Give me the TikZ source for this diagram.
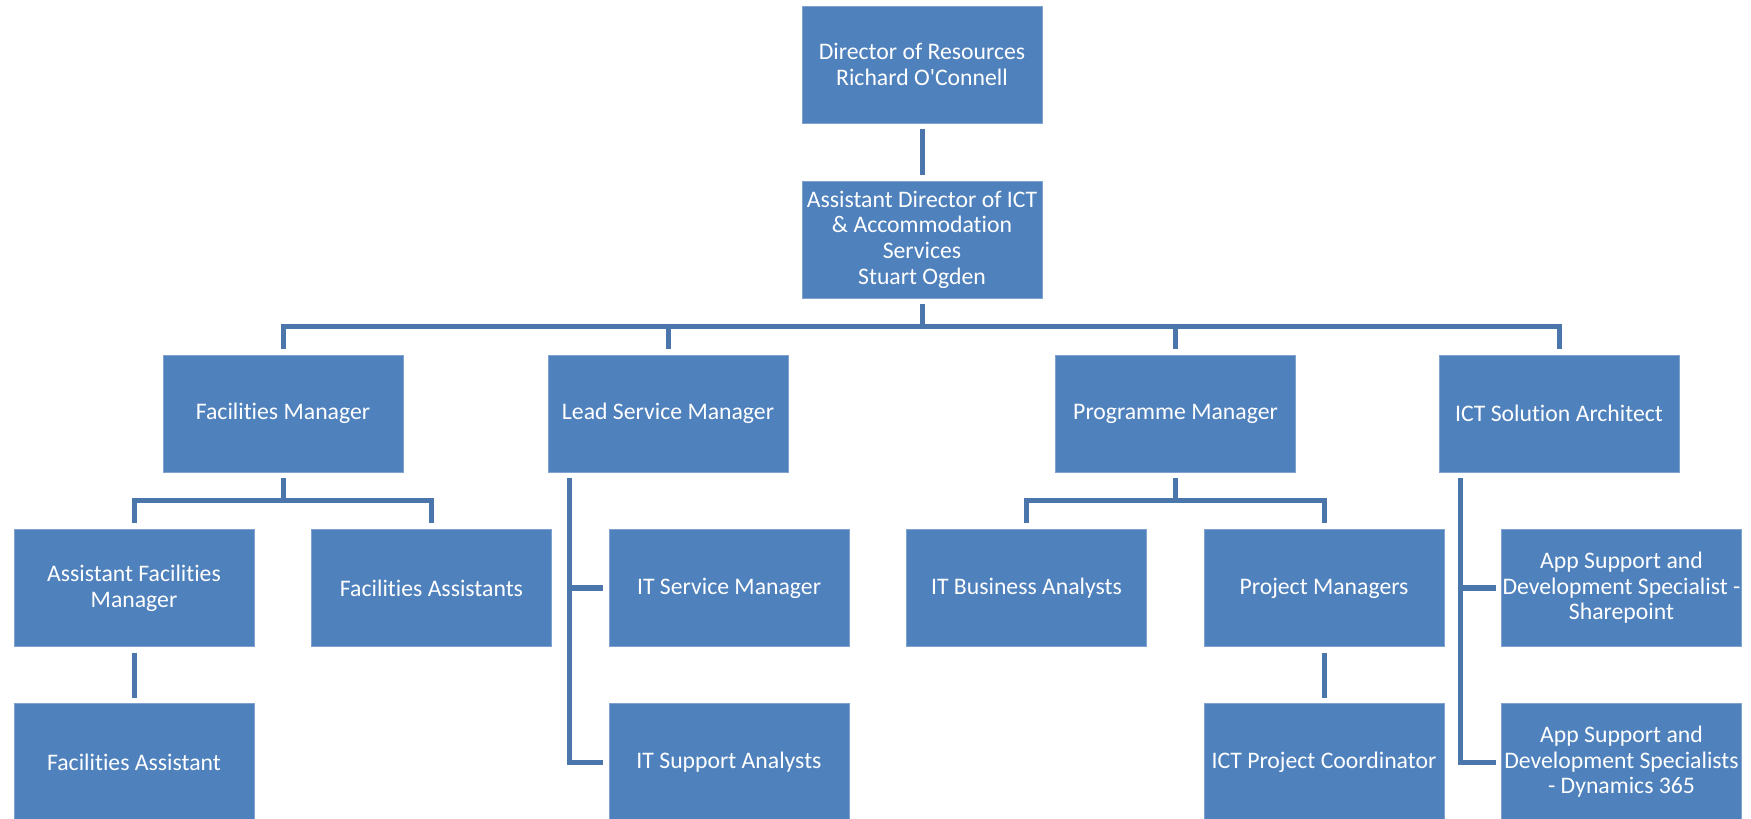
\documentclass[tikz,border=0pt]{standalone}
\usepackage{fontspec}
\setmainfont{Carlito}[Ligatures={NoCommon,NoRare,NoContextual}]
\definecolor{boxblue}{HTML}{4F81BD}
\definecolor{boxedge}{HTML}{7FA2CE}
\definecolor{lineblue}{HTML}{4A76AC}
\begin{document}
\begin{tikzpicture}[
	post/.style={rectangle, fill=boxblue, draw=boxedge, line width=.4pt,
		minimum width=4.8cm, minimum height=2.34cm, inner sep=0pt, outer sep=.12cm,
		align=center, text=white, font=\fontsize{13.5}{14.6}\selectfont},
	link/.style={draw=lineblue, line width=.1cm}
]
	\useasboundingbox (0,0) rectangle (35.02,-16.38);

	\node[post] (dir) at (18.44,-1.29) {Director of Resources\\Richard O\textquotesingle Connell};
	\node[post] (adir) at (18.44,-4.79) {Assistant Director of ICT\\\& Accommodation\\Services\\Stuart Ogden};

	\node[post] (fm) at (5.66,-8.27) {Facilities Manager};
	\node[post] (lsm) at (13.36,-8.27) {Lead Service Manager};
	\node[post] (pm) at (23.51,-8.27) {Programme Manager};
	\node[post] (isa) at (31.18,-8.27) {ICT Solution Architect};

	\node[post] (afm) at (2.68,-11.76) {Assistant Facilities\\Manager};
	\node[post] (fas) at (8.63,-11.76) {Facilities Assistants};
	\node[post] (itsm) at (14.58,-11.76) {IT Service Manager};
	\node[post] (itba) at (20.53,-11.76) {IT Business Analysts};
	\node[post] (pms) at (26.48,-11.76) {Project Managers};
	\node[post] (asds) at (32.43,-11.76) {App Support and\\Development Specialist -\\Sharepoint};

	\node[post] (fa) at (2.68,-15.24) {Facilities Assistant};
	\node[post] (itsa) at (14.58,-15.24) {IT Support Analysts};
	\node[post] (ipc) at (26.48,-15.24) {ICT Project Coordinator};
	\node[post] (asdd) at (32.43,-15.24) {App Support and\\Development Specialists\\- Dynamics 365};

	\coordinate (bus) at (0,-6.53);
	\coordinate (fbus) at (0,-10.01);
	\coordinate (lsp) at ([xshift=.55cm]lsm.south west);
	\coordinate (isp) at ([xshift=.55cm]isa.south west);

	\draw[link] (dir) -- (adir);
	\draw[link] (adir.south) -- (adir.south |- bus);
	\draw[link] (fm.north) |- (isa.north |- bus) -- (isa.north);
	\draw[link] (lsm.north) -- (lsm.north |- bus);
	\draw[link] (pm.north) -- (pm.north |- bus);

	\draw[link] (fm.south) -- (fm.south |- fbus);
	\draw[link] (afm.north) |- (fas.north |- fbus) -- (fas.north);
	\draw[link] (afm) -- (fa);

	\draw[link] (lsp) |- (itsa.west);
	\draw[link] (lsp |- itsm.west) -- (itsm.west);

	\draw[link] (pm.south) -- (pm.south |- fbus);
	\draw[link] (itba.north) |- (pms.north |- fbus) -- (pms.north);
	\draw[link] (pms) -- (ipc);

	\draw[link] (isp) |- (asdd.west);
	\draw[link] (isp |- asds.west) -- (asds.west);
\end{tikzpicture}
\end{document}
